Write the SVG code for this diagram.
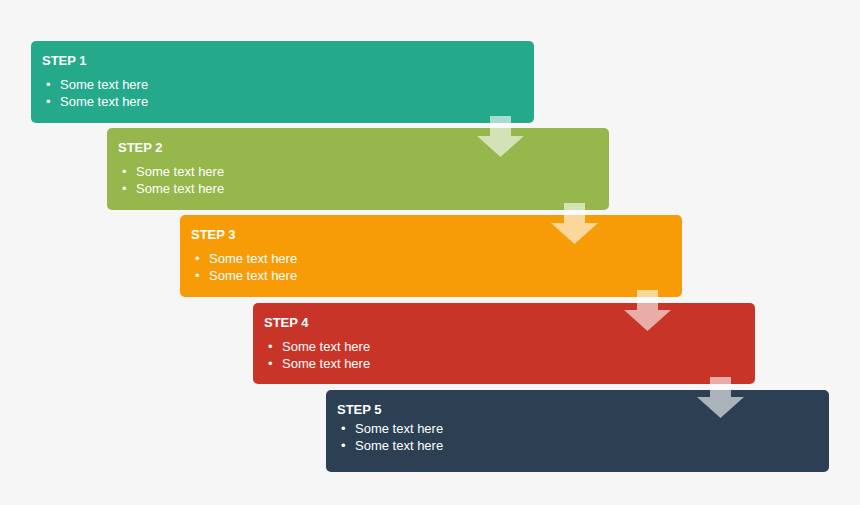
<svg xmlns="http://www.w3.org/2000/svg" width="860" height="505" viewBox="0 0 860 505">
<style>
.t{font-family:"Liberation Sans",Arial,sans-serif;font-size:13px;font-weight:bold;fill:#fff}
.b{font-family:"Liberation Sans",Arial,sans-serif;font-size:13px;fill:#fff}
.arr{fill:#fff;fill-opacity:0.6}
</style>
<defs>
<path id="ar" d="M-10,0 H11 V20 H24 L0.5,41 L-23,20 H-10 Z"/>
</defs>
<rect width="860" height="505" fill="#f6f6f6"/>
<g id="step1">
<rect x="31" y="41" width="503" height="82" rx="5" fill="#24a98b"/>
<text class="t" x="42" y="65">STEP 1</text>
<text class="b" x="46" y="89">•</text><text class="b" x="60" y="89">Some text here</text>
<text class="b" x="46" y="106">•</text><text class="b" x="60" y="106">Some text here</text>
</g>
<g id="step2">
<rect x="107" y="128" width="502" height="82" rx="5" fill="#95b74b"/>
<text class="t" x="118" y="152">STEP 2</text>
<text class="b" x="122" y="176">•</text><text class="b" x="136" y="176">Some text here</text>
<text class="b" x="122" y="193">•</text><text class="b" x="136" y="193">Some text here</text>
</g>
<g id="step3">
<rect x="180" y="215" width="502" height="82" rx="5" fill="#f79b07"/>
<text class="t" x="191" y="239">STEP 3</text>
<text class="b" x="195" y="263">•</text><text class="b" x="209" y="263">Some text here</text>
<text class="b" x="195" y="280">•</text><text class="b" x="209" y="280">Some text here</text>
</g>
<g id="step4">
<rect x="253" y="303" width="502" height="81" rx="5" fill="#c93428"/>
<text class="t" x="264" y="327">STEP 4</text>
<text class="b" x="268" y="351">•</text><text class="b" x="282" y="351">Some text here</text>
<text class="b" x="268" y="368">•</text><text class="b" x="282" y="368">Some text here</text>
</g>
<g id="step5">
<rect x="326" y="390" width="503" height="82" rx="5" fill="#2c3f53"/>
<text class="t" x="337" y="414">STEP 5</text>
<text class="b" x="341" y="433">•</text><text class="b" x="355" y="433">Some text here</text>
<text class="b" x="341" y="450">•</text><text class="b" x="355" y="450">Some text here</text>
</g>
<g id="connectors">
<use href="#ar" class="arr" x="500" y="116"/>
<use href="#ar" class="arr" x="574" y="203"/>
<use href="#ar" class="arr" x="647" y="290"/>
<use href="#ar" class="arr" x="720" y="377"/>
</g>
</svg>
